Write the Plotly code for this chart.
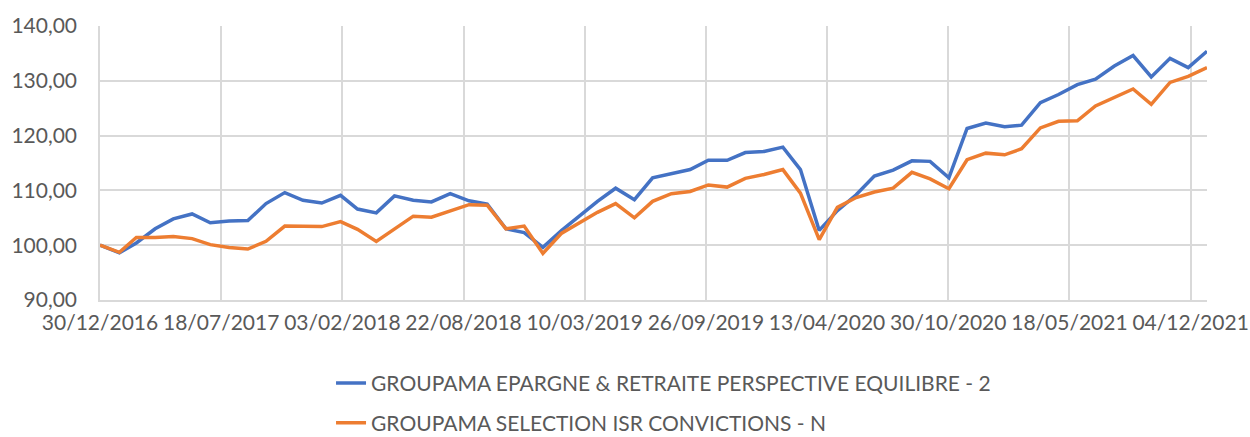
import pandas as pd
import plotly.graph_objects as go

# Monthly observation dates (first = 30/12/2016, then month ends)
dates = ["2016-12-30"] + [d.strftime("%Y-%m-%d") for d in pd.date_range("2017-01-31", "2021-12-31", freq="ME")]

series1_name = "GROUPAMA EPARGNE & RETRAITE PERSPECTIVE EQUILIBRE - 2"
series1 = [100.0, 98.6, 100.4, 103.0, 104.8, 105.7, 104.1, 104.4, 104.5, 107.6,
           109.6, 108.2, 107.7, 109.1, 106.6, 105.9, 109.0, 108.2, 107.9, 109.4,
           108.1, 107.5, 103.0, 102.3, 99.6, 102.7, 105.2, 108.0, 110.4, 108.3,
           112.3, 113.0, 113.8, 115.5, 115.5, 116.9, 117.1, 117.9, 113.8, 102.7,
           106.3, 109.2, 112.6, 113.7, 115.4, 115.3, 112.3, 121.3, 122.3, 121.6,
           121.9, 126.0, 127.5, 129.3, 130.3, 132.7, 134.6, 130.7, 134.1, 132.4,
           135.4]

series2_name = "GROUPAMA SELECTION ISR CONVICTIONS - N"
series2 = [100.0, 98.7, 101.4, 101.4, 101.6, 101.2, 100.1, 99.6, 99.3, 100.7,
           103.5, 103.4, 103.4, 104.3, 102.9, 100.7, 103.0, 105.3, 105.1, 106.3,
           107.4, 107.3, 103.0, 103.5, 98.5, 102.2, 104.0, 106.0, 107.6, 105.0,
           108.0, 109.4, 109.8, 111.0, 110.6, 112.2, 112.9, 113.8, 109.5, 101.0,
           106.9, 108.7, 109.7, 110.4, 113.3, 112.1, 110.3, 115.6, 116.8, 116.5,
           117.6, 121.4, 122.6, 122.7, 125.4, 126.9, 128.5, 125.7, 129.7, 130.8,
           132.4]

y_ticks = [90, 100, 110, 120, 130, 140]

FONT = "Lato"
TXT = "#595959"
GRID = "#D9D9D9"

fig = go.Figure()
fig.add_trace(go.Scatter(x=dates, y=series1, mode="lines", name=series1_name,
                         line=dict(color="#4472C4", width=3.5), legend="legend"))
fig.add_trace(go.Scatter(x=dates, y=series2, mode="lines", name=series2_name,
                         line=dict(color="#ED7D31", width=3.5), legend="legend2"))

fig.update_layout(
    width=1250, height=437,
    margin=dict(l=100, r=43, t=26, b=137, autoexpand=False),
    paper_bgcolor="white", plot_bgcolor="white",
    separators=", ",
    font=dict(family=FONT, size=21, color=TXT),
    showlegend=True,
    legend=dict(x=0.2087, xanchor="left", y=-0.304, yanchor="middle",
                font=dict(family=FONT, size=21, color=TXT), bgcolor="rgba(0,0,0,0)"),
    legend2=dict(x=0.2087, xanchor="left", y=-0.449, yanchor="middle",
                 font=dict(family=FONT, size=21, color=TXT), bgcolor="rgba(0,0,0,0)"),
)

fig.update_xaxes(
    type="date", automargin=False,
    range=[dates[0], dates[-1]],
    tick0=dates[0], dtick=200 * 86400000,
    tickformat="%d/%m/%Y", tickangle=0,
    showgrid=True, gridcolor=GRID, gridwidth=1.5,
    showline=True, linecolor=GRID, linewidth=1.5,
    ticks="outside", ticklen=3, tickcolor="rgba(0,0,0,0)",
    zeroline=False,
)
fig.update_yaxes(
    range=[90, 140], tickvals=y_ticks, tickformat=".2f", automargin=False,
    showgrid=True, gridcolor=GRID, gridwidth=1.5,
    showline=True, linecolor=GRID, linewidth=1.5,
    ticks="outside", ticklen=17, tickcolor="rgba(0,0,0,0)",
    zeroline=False,
)

fig.write_html("out.html",
               config={"displayModeBar": False},
               post_script="document.body.style.margin='0';document.body.style.overflow='hidden';")
